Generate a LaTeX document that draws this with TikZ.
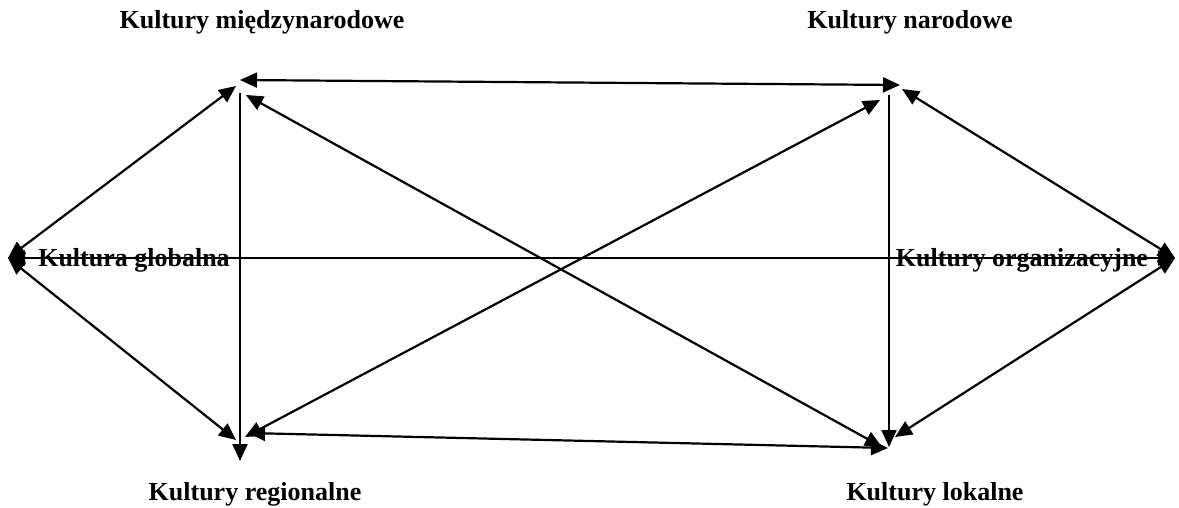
\documentclass[tikz,border=0pt]{standalone}
\usepackage{fontspec}
\setmainfont{Liberation Serif}
\usetikzlibrary{arrows.meta}
\begin{document}
\begin{tikzpicture}[x=0.5pt,y=-0.5pt,
  lbl/.style={font=\bfseries\fontsize{13}{15}\selectfont, inner sep=0pt, anchor=center},
  tip/.style={Triangle[length=8.5pt,width=7.5pt]},
  link/.style={line width=1.1pt, {Triangle[length=8.5pt,width=7.5pt]}-{Triangle[length=8.5pt,width=7.5pt]}},
  link1/.style={line width=1.1pt, -{Triangle[length=8.5pt,width=7.5pt]}}]
\useasboundingbox (0,0) rectangle (1179,508);
% labels
\node[lbl] (tM) at (262,22) {Kultury międzynarodowe};
\node[lbl] (tN) at (910,22) {Kultury narodowe};
\node[lbl] (tG) at (134,260) {Kultura globalna};
\node[lbl] (tO) at (1022,260) {Kultury organizacyjne};
\node[lbl] (tR) at (255,494) {Kultury regionalne};
\node[lbl] (tL) at (935,494) {Kultury lokalne};
% end points
\coordinate (G) at (8,258);
\coordinate (O) at (1175,258);
\coordinate (Ma) at (240,80);
\coordinate (Mb) at (236,86);
\coordinate (Mc) at (246,95);
\coordinate (Mv) at (240,93);
\coordinate (Na) at (900,85);
\coordinate (Nb) at (880,100);
\coordinate (Nc) at (902,89);
\coordinate (Nv) at (889,95);
\coordinate (Ra) at (236,440);
\coordinate (Rb) at (245,437);
\coordinate (Rc) at (248,433);
\coordinate (Rv) at (240,461);
\coordinate (La) at (882,447);
\coordinate (Lb) at (888,448);
\coordinate (Lc) at (895,437);
\coordinate (Lv) at (889,447);
% connectors
\draw[link] (Ma) -- (Na);
\draw[link] (G) -- (Mb);
\draw[link] (G) -- (Ra);
\draw[link] (G) -- (O);
\draw[link1] (Mv) -- (Rv);
\draw[link] (Mc) -- (La);
\draw[link] (Rb) -- (Nb);
\draw[link] (Rc) -- (Lb);
\draw[link1] (Nv) -- (Lv);
\draw[link] (Nc) -- (O);
\draw[link] (Lc) -- (O);
\end{tikzpicture}
\end{document}
